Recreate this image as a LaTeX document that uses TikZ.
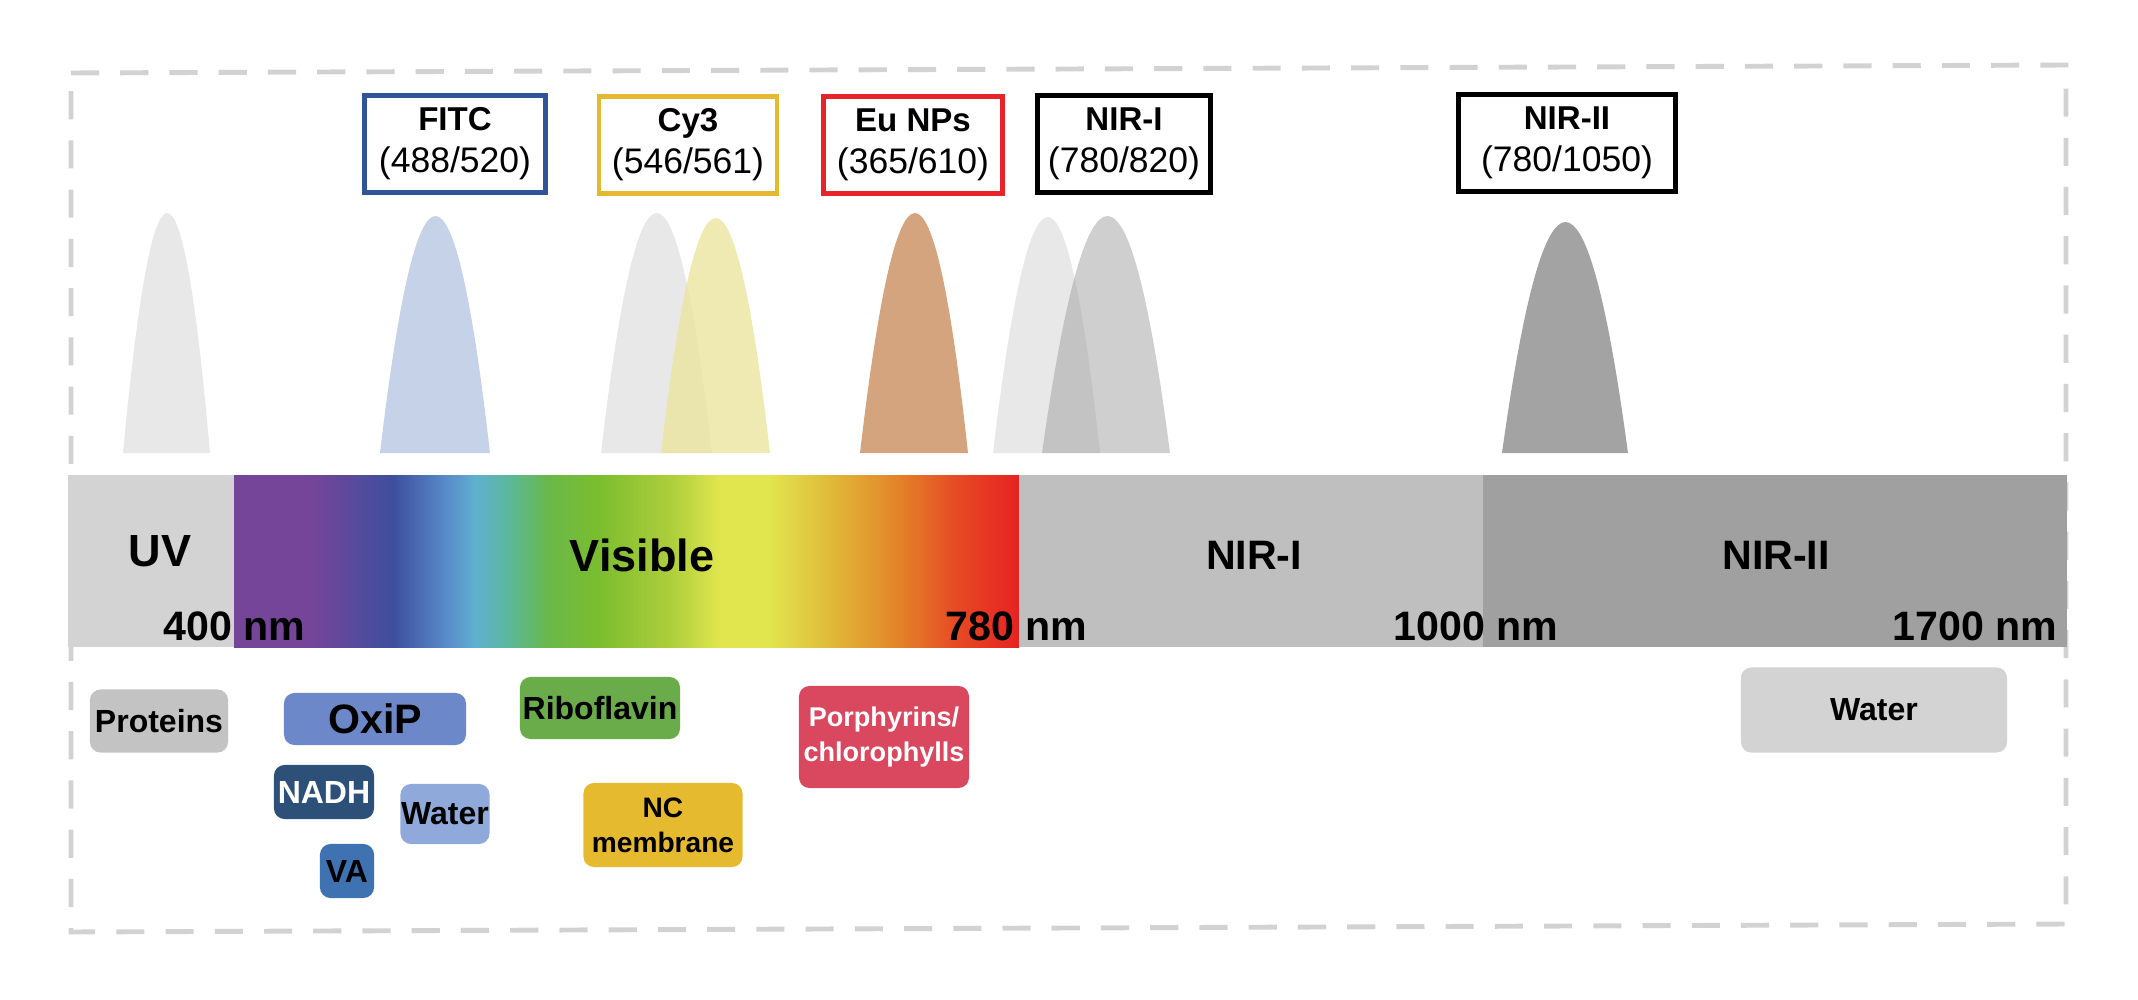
\documentclass[tikz,border=0pt]{standalone}
\usepackage{fontspec}
\setmainfont{Liberation Sans}
\usetikzlibrary{positioning, calc}
%colori
\definecolor{cornice}{HTML}{D2D2D2}
\definecolor{uvgrigio}{HTML}{D3D3D3}
\definecolor{nirunogrigio}{HTML}{BFBFBF}
\definecolor{nirduegrigio}{HTML}{A0A0A0}
\definecolor{blufitc}{HTML}{2F5597}
\definecolor{giallocy}{HTML}{E6B830}
\definecolor{rossoeu}{HTML}{E8232A}
\definecolor{piccogrigio}{HTML}{E8E8E8}
\definecolor{piccoblu}{HTML}{C5D2E8}
\definecolor{piccogiallo}{HTML}{EBE39F}
\definecolor{piccoeu}{HTML}{D4A47F}
\definecolor{piccomedio}{HTML}{9F9F9F}
\definecolor{picconir}{HTML}{A3A3A3}
\definecolor{proteine}{HTML}{C3C3C3}
\definecolor{oxip}{HTML}{6D88C8}
\definecolor{riboflavina}{HTML}{6AAB4A}
\definecolor{porfirine}{HTML}{D9485F}
\definecolor{nadh}{HTML}{2D5078}
\definecolor{acquablu}{HTML}{8FA9DA}
\definecolor{va}{HTML}{3E72B1}
\definecolor{nitro}{HTML}{E5BA2F}
\definecolor{acquagrigio}{HTML}{D3D3D3}
%spettro visibile
\definecolor{sviola}{HTML}{744599}
\definecolor{sblu}{HTML}{3D4F9E}
\definecolor{sazzurro}{HTML}{5A8FCC}
\definecolor{sciano}{HTML}{5FB0CF}
\definecolor{sverdeacqua}{HTML}{5AB8A0}
\definecolor{sverde}{HTML}{6AB84A}
\definecolor{sverdeb}{HTML}{7ABD2E}
\definecolor{sverdegiallo}{HTML}{B0CF3C}
\definecolor{sgiallo}{HTML}{E2E64E}
\definecolor{soro}{HTML}{E0B838}
\definecolor{sarancio}{HTML}{E48028}
\definecolor{sarancior}{HTML}{E64A24}
\definecolor{srosso}{HTML}{E62222}
\pgfdeclarehorizontalshading{visibile}{100bp}{color(0bp)=(sviola); color(30bp)=(sviola); color(35.15bp)=(sblu); color(38.75bp)=(sazzurro); color(40.35bp)=(sciano); color(42.3bp)=(sverdeacqua); color(45bp)=(sverde); color(48.15bp)=(sverdeb); color(53bp)=(sverdegiallo); color(56bp)=(sgiallo); color(59bp)=(sgiallo); color(63.15bp)=(soro); color(67.5bp)=(sarancio); color(71bp)=(sarancior); color(75bp)=(srosso); color(100bp)=(srosso)}
\newcommand{\valori}{\fontsize{10.1}{12}\selectfont}

\begin{document}
\begin{tikzpicture}[x=0.01cm, y=-0.01cm,
  etichetta/.style={draw, line width=1.3pt, fill=white, align=center, inner sep=0pt, minimum height=0.97cm, font=\fontsize{9.4}{12}\selectfont},
  assorbitore/.style={rounded corners=3pt, inner sep=0pt, align=center, font=\bfseries\fontsize{9.1}{11}\selectfont},
  banda/.style={font=\bfseries\fontsize{12.8}{14}\selectfont},
  lunghezza/.style={font=\bfseries\fontsize{11.7}{13}\selectfont, inner sep=0pt, anchor=base west}]
        \useasboundingbox (0,0) rectangle (2138,1000);
        %cornice tratteggiata
        \draw[cornice, line width=1.4pt, dash pattern=on 8pt off 6pt] (71,73) -- (2066,65) -- (2066,924) -- (71,932) -- cycle;
        %picchi di emissione (parabole)
        \foreach \xl/\xc/\xr/\ya/\col/\op in {123/168/210/213/piccogrigio/1, 380/436/490/216/piccoblu/1, 601/657/712/213/piccogrigio/1, 661/716/770/218/piccogiallo/0.8, 860/916/968/213/piccoeu/1, 993/1049/1100/217/piccogrigio/1, 1042/1109/1170/216/piccomedio/0.5, 1502/1566/1628/222/picconir/1} {
        \fill[\col, fill opacity=\op] (\xl,453) .. controls ({\xl+2*(\xc-\xl)/3},{453-4*(453-\ya)/3}) and ({\xr+2*(\xc-\xr)/3},{453-4*(453-\ya)/3}) .. (\xr,453) -- cycle;}
        %barra dello spettro
        \fill[uvgrigio] (68,475) rectangle (234,647);
        \shade[shading=visibile] (234,475) rectangle (1019,647);
        \fill[nirunogrigio] (1019,475) rectangle (1483,647);
        \fill[nirduegrigio] (1483,475) rectangle (2067,647);
        %nomi delle bande
        \node[banda] (uv) at (160,551) {UV};
        \node[banda] (visibile) at (642,555) {Visible};
        \node[banda, font=\bfseries\fontsize{11.7}{13}\selectfont] (niruno) at (1254,555) {NIR-I};
        \node[banda, font=\bfseries\fontsize{11.7}{13}\selectfont] (nirdue) at (1776,555) {NIR-II};
        %lunghezze d'onda
        \node[lunghezza] (l400) at (163,640) {400 nm};
        \node[lunghezza] (l780) at (945,640) {780 nm};
        \node[lunghezza] (l1000) at (1393,640) {1000 nm};
        \node[lunghezza, anchor=base east] (l1700) at (2058,640) {1700 nm};
        %fluorofori
        \node[etichetta, draw=blufitc, minimum width=1.81cm] (fitc) at (455,144) {\textbf{FITC}\\\valori(488/520)};
        \node[etichetta, draw=giallocy, minimum width=1.78cm] (cy3) at (688,145) {\textbf{Cy3}\\\valori(546/561)};
        \node[etichetta, draw=rossoeu, minimum width=1.79cm] (eunps) at (913,145) {\textbf{Eu NPs}\\\valori(365/610)};
        \node[etichetta, draw=black, minimum width=1.73cm] (nirI) at (1124,144) {\textbf{NIR-I}\\\valori(780/820)};
        \node[etichetta, draw=black, minimum width=2.17cm] (nirII) at (1567,143) {\textbf{NIR-II}\\\valori(780/1050)};
        %assorbitori endogeni
        \node[assorbitore, fill=proteine, minimum width=1.38cm, minimum height=0.63cm] (proteins) at (159,721) {Proteins};
        \node[assorbitore, fill=oxip, minimum width=1.82cm, minimum height=0.52cm, font=\bfseries\fontsize{11.7}{13}\selectfont] (oxip) at (375,719) {OxiP};
        \node[assorbitore, fill=riboflavina, minimum width=1.6cm, minimum height=0.62cm] (riboflavin) at (600,708) {Riboflavin};
        \node[assorbitore, fill=porfirine, text=white, minimum width=1.7cm, minimum height=1.02cm, font=\bfseries\fontsize{7.7}{9.7}\selectfont] (porphyrins) at (884,737) {Porphyrins/\\chlorophylls};
        \node[assorbitore, fill=nadh, text=white, minimum width=1cm, minimum height=0.54cm] (nadh) at (324,792) {NADH};
        \node[assorbitore, fill=acquablu, minimum width=0.89cm, minimum height=0.6cm] (waterblu) at (445,814) {Water};
        \node[assorbitore, fill=va, minimum width=0.54cm, minimum height=0.54cm] (va) at (347,871) {VA};
        \node[assorbitore, fill=nitro, minimum width=1.59cm, minimum height=0.84cm, font=\bfseries\fontsize{8}{10}\selectfont] (ncmembrane) at (663,825) {NC\\membrane};
        \node[assorbitore, fill=acquagrigio, minimum width=2.66cm, minimum height=0.85cm] (watergrigio) at (1874,710) {Water};
\end{tikzpicture}
\end{document}
